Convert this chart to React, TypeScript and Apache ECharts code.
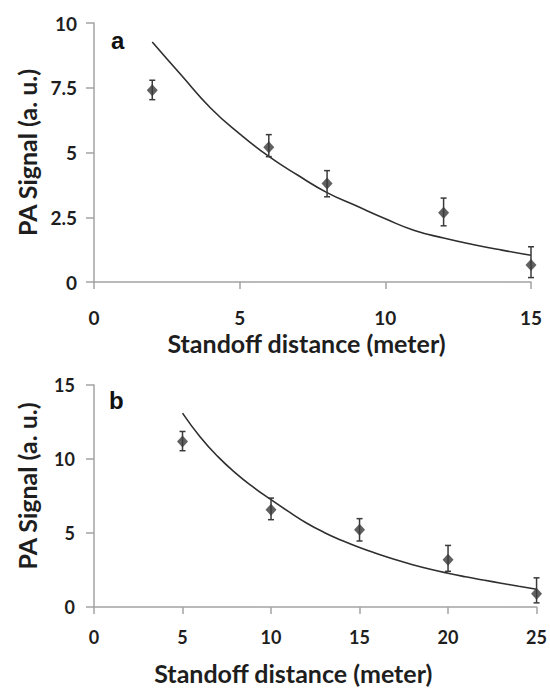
import React, { useEffect, useRef } from "react";
import * as echarts from "echarts";

// Panel a
const aDist = [2, 6, 8, 12, 15];
const aSignal = [7.4, 5.2, 3.8, 2.67, 0.66];
const aErrLow = [7.04, 4.84, 3.29, 2.17, 0.17];
const aErrHigh = [7.79, 5.69, 4.3, 3.24, 1.36];
const aFitX = [2, 3, 4, 5, 6, 7, 8, 9, 10, 11, 12, 13, 14, 15];
const aFitY = [9.27, 7.98, 6.72, 5.72, 4.85, 4.12, 3.45, 2.94, 2.44, 1.99, 1.7, 1.45, 1.23, 1.03];

// Panel b
const bDist = [5, 10, 15, 20, 25];
const bSignal = [11.19, 6.57, 5.22, 3.2, 0.89];
const bErrLow = [10.56, 5.9, 4.46, 2.41, 0.28];
const bErrHigh = [11.86, 7.36, 5.97, 4.16, 1.97];
const bFitX = [5, 6, 7, 8, 9, 10, 11, 12, 13, 14, 15, 16, 17, 18, 19, 20, 21, 22, 23, 24, 25];
const bFitY = [13.1, 11.49, 10.16, 9.05, 8.1, 7.25, 6.44, 5.68, 5.04, 4.5, 4.02, 3.6, 3.21, 2.86, 2.55, 2.28, 2.04, 1.82, 1.61, 1.4, 1.2];

const xTicksA = { min: 0, max: 15, interval: 5 };
const yTicksA = { min: 0, max: 10, interval: 2.5 };
const xTicksB = { min: 0, max: 25, interval: 5 };
const yTicksB = { min: 0, max: 15, interval: 5 };

const xName = "Standoff distance (meter)";
const yName = "PA Signal (a. u.)";

const FONT = "Lato, 'Open Sans', sans-serif";
const AXIS_COLOR = "#a3a3a3";
const TEXT_COLOR = "#1e1e1e";
const MARK_COLOR = "#3a3a3a";

function errorBarSeries(xAxisIndex: number, dist: number[], lo: number[], hi: number[]) {
  return {
    type: "custom",
    xAxisIndex,
    yAxisIndex: xAxisIndex,
    data: dist.map((d, i) => [d, lo[i], hi[i]]),
    renderItem: (params: any, api: any) => {
      const x = api.value(0);
      const p1 = api.coord([x, api.value(1)]);
      const p2 = api.coord([x, api.value(2)]);
      const cw = 3;
      const style = { stroke: MARK_COLOR, lineWidth: 1.5 };
      return {
        type: "group",
        children: [
          { type: "line", shape: { x1: p1[0], y1: p1[1], x2: p2[0], y2: p2[1] }, style },
          { type: "line", shape: { x1: p1[0] - cw, y1: p1[1], x2: p1[0] + cw, y2: p1[1] }, style },
          { type: "line", shape: { x1: p2[0] - cw, y1: p2[1], x2: p2[0] + cw, y2: p2[1] }, style },
        ],
      };
    },
    z: 3,
  };
}

function xAxisOpt(idx: number, ticks: any, fontSize: number, margin: number, nameGap: number, shift: number) {
  return {
    type: "value",
    gridIndex: idx,
    ...ticks,
    name: xName,
    nameLocation: "middle",
    nameGap,
    nameTextStyle: {
      fontFamily: FONT,
      fontWeight: "bold",
      fontSize: 25,
      color: TEXT_COLOR,
      padding: [0, shift * 2, 0, 0],
    },
    axisLine: { show: true, lineStyle: { color: AXIS_COLOR, width: 1.5 } },
    axisTick: { show: true, length: 7, lineStyle: { color: AXIS_COLOR, width: 1.5 } },
    splitLine: { show: false },
    axisLabel: {
      fontFamily: FONT,
      fontWeight: "bold",
      fontSize,
      color: TEXT_COLOR,
      margin,
    },
  };
}

function yAxisOpt(idx: number, ticks: any, fontSize: number, margin: number, nameGap: number, shiftDown: number) {
  return {
    type: "value",
    gridIndex: idx,
    ...ticks,
    name: yName,
    nameLocation: "middle",
    nameRotate: 90,
    nameGap,
    nameTextStyle: {
      fontFamily: FONT,
      fontWeight: "bold",
      fontSize: 25,
      color: TEXT_COLOR,
      padding: shiftDown > 0 ? [0, 0, 0, shiftDown * 2] : [0, 0, 0, 0],
    },
    axisLine: { show: true, lineStyle: { color: AXIS_COLOR, width: 1.5 } },
    axisTick: { show: true, length: 8, lineStyle: { color: AXIS_COLOR, width: 1.5 } },
    splitLine: { show: false },
    axisLabel: {
      fontFamily: FONT,
      fontWeight: "bold",
      fontSize,
      color: TEXT_COLOR,
      margin,
    },
  };
}

export default function App() {
  const ref = useRef<HTMLDivElement>(null);
  useEffect(() => {
    if (!ref.current) return;
    const chart = echarts.init(ref.current, undefined, { renderer: "svg" });
    chart.setOption({
      animation: false,
      backgroundColor: "#ffffff",
      grid: [
        { left: 94, top: 23, width: 437, height: 259 },
        { left: 94, top: 385, width: 444, height: 222 },
      ],
      xAxis: [
        xAxisOpt(0, xTicksA, 19, 26, 48, 6),
        xAxisOpt(1, xTicksB, 18, 21, 53, 22),
      ],
      yAxis: [
        yAxisOpt(0, yTicksA, 19, 17, 55, 0),
        yAxisOpt(1, yTicksB, 18, 19, 55, 10),
      ],
      graphic: [
        {
          type: "text",
          left: 111,
          top: 28,
          style: { text: "a", font: "bold 24px 'Liberation Sans', Arial, sans-serif", fill: "#111" },
        },
        {
          type: "text",
          left: 109,
          top: 388,
          style: { text: "b", font: "bold 24px 'Liberation Sans', Arial, sans-serif", fill: "#111" },
        },
      ],
      series: [
        {
          type: "line",
          xAxisIndex: 0,
          yAxisIndex: 0,
          data: aFitX.map((x, i) => [x, aFitY[i]]),
          smooth: 0.5,
          showSymbol: false,
          lineStyle: { color: "#2f2f2f", width: 1.6 },
          z: 2,
        },
        errorBarSeries(0, aDist, aErrLow, aErrHigh),
        {
          type: "scatter",
          xAxisIndex: 0,
          yAxisIndex: 0,
          data: aDist.map((x, i) => [x, aSignal[i]]),
          symbol: "diamond",
          symbolSize: [11, 12],
          itemStyle: { color: MARK_COLOR },
          z: 4,
        },
        {
          type: "line",
          xAxisIndex: 1,
          yAxisIndex: 1,
          data: bFitX.map((x, i) => [x, bFitY[i]]),
          smooth: 0.5,
          showSymbol: false,
          lineStyle: { color: "#2f2f2f", width: 1.6 },
          z: 2,
        },
        errorBarSeries(1, bDist, bErrLow, bErrHigh),
        {
          type: "scatter",
          xAxisIndex: 1,
          yAxisIndex: 1,
          data: bDist.map((x, i) => [x, bSignal[i]]),
          symbol: "diamond",
          symbolSize: [11, 12],
          itemStyle: { color: MARK_COLOR },
          z: 4,
        },
      ],
    });
    return () => chart.dispose();
  }, []);
  return (
    <div
      ref={ref}
      style={{ position: "fixed", left: 0, top: 0, width: 550, height: 690, background: "#fff" }}
    />
  );
}
